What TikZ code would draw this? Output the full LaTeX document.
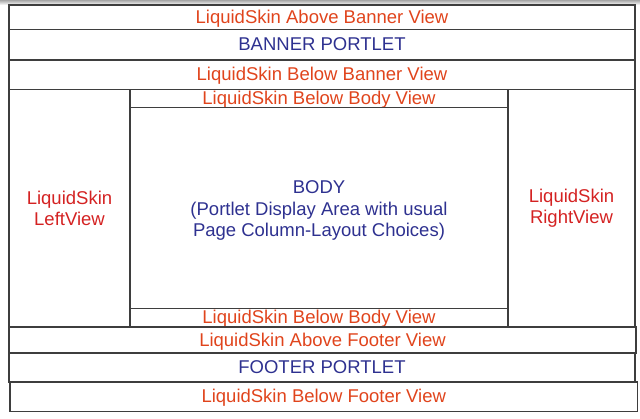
\documentclass[tikz,border=0pt]{standalone}
\usepackage{fontspec}
\setmainfont{Liberation Sans}
\definecolor{orng}{HTML}{E0441C}
\definecolor{rd}{HTML}{D42222}
\definecolor{blu}{HTML}{2E3190}
\definecolor{edge}{HTML}{3E3E3E}
\begin{document}
\begin{tikzpicture}[x=1pt,y=-1pt,
  box/.style={draw=edge,line width=1.3pt,rectangle,inner sep=0pt,outer sep=0pt,
    font=\fontsize{18.5}{21.5}\selectfont,text height=0.72em+5pt,text depth=0pt},
  mbox/.style={draw=edge,line width=1.3pt,rectangle,inner sep=0pt,outer sep=0pt,
    font=\fontsize{18.5}{21.5}\selectfont,align=center},
  lbl/.style={inner sep=0pt,font=\fontsize{18.5}{21.5}\selectfont,align=center}]
\useasboundingbox (0,0) rectangle (640,418);
\shade[top color=black!35,bottom color=white] (0,0) rectangle (640,5);
% top rows
\node[box,minimum width=626pt,minimum height=24.5pt,text=orng] (abovebanner) at (322,17.25) {LiquidSkin Above Banner View};
\node[box,minimum width=626pt,minimum height=30.5pt,text=blu] (banner) at (322,44.75) {BANNER PORTLET};
\node[box,minimum width=626pt,minimum height=29.5pt,text=orng] (belowbanner) at (322,74.75) {LiquidSkin Below Banner View};
% side columns
\node[mbox,minimum width=121pt,minimum height=237.5pt,text=rd] (left) at (69.5,208.25) {LiquidSkin\\LeftView};
\node[mbox,minimum width=127pt,minimum height=237.5pt,text=rd] (right) at (571.5,208.25) {LiquidSkin\\RightView};
% body
\node[box,minimum width=378pt,minimum height=18.2pt,text=orng] (bodytop) at (319,98.6) {LiquidSkin Below Body View};
\node[mbox,minimum width=378pt,minimum height=200.6pt] (body) at (319,208) {};
\node[lbl,text=blu] (bodytext) at (319,210.5) {BODY\\(Portlet Display Area with usual\\Page Column-Layout Choices)};
\node[box,minimum width=378pt,minimum height=18.4pt,text=orng] (bodybottom) at (319,317.5) {LiquidSkin Below Body View};
% footer rows
\node[box,minimum width=627pt,minimum height=26pt,text=orng] (abovefooter) at (322.5,340) {LiquidSkin Above Footer View};
\node[box,minimum width=626pt,minimum height=29pt,text=blu] (footer) at (322,367.5) {FOOTER PORTLET};
\node[box,minimum width=627.5pt,minimum height=29.5pt,text=orng] (belowfooter) at (323.75,396.75) {LiquidSkin Below Footer View};
\end{tikzpicture}
\end{document}
